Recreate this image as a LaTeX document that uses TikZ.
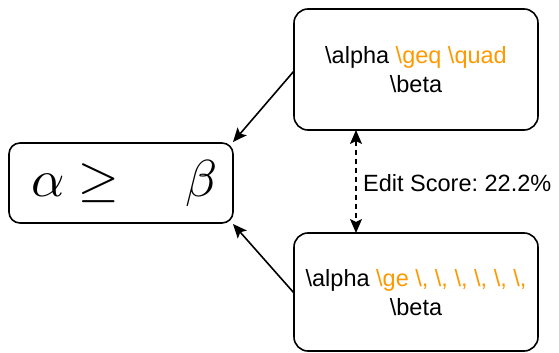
\documentclass[tikz,border=0pt]{standalone}
\usepackage{fontspec}
\setmainfont{Liberation Sans}
\usepackage{unicode-math}
\setmathfont{Latin Modern Math}
\usetikzlibrary{arrows.meta}
\definecolor{hl}{RGB}{255,153,0}
\frenchspacing
\tikzset{
  card/.style={draw, line width=1.6pt, rounded corners=14pt},
  tip/.style={Stealth[length=14pt,width=12pt,inset=3pt]},
  link/.style={line width=1.6pt, -{Stealth[length=14pt,width=12pt,inset=3pt]}},
  txt/.style={font=\fontsize{23.5}{29}\selectfont, align=center, inner sep=0pt},
}
\begin{document}
\begin{tikzpicture}[x=1pt,y=-1pt]
  \useasboundingbox (0,0) rectangle (559,353);
  % boxes
  \draw[card] (294,9) rectangle (538,130);
  \draw[card] (294,233) rectangle (538,351);
  \draw[card, rounded corners=11pt] (9,143) rectangle (233,223);
  \coordinate (top) at (416,70);
  \coordinate (bot) at (416,293);
  \coordinate (res) at (124,183);
  \coordinate (topW) at (294,71);
  \coordinate (botW) at (294,293);
  \coordinate (resNE) at (233,142);
  \coordinate (resSE) at (233,224);
  \coordinate (topS) at (356,130);
  \coordinate (botN) at (356,233);
  % labels
  \node[txt] (tl) at (top) {\textbackslash alpha \textcolor{hl}{\textbackslash geq \textbackslash quad}\\\textbackslash beta};
  \node[txt] (bl) at (bot) {\textbackslash alpha \textcolor{hl}{\textbackslash ge \textbackslash, \textbackslash, \textbackslash, \textbackslash, \textbackslash, \textbackslash,}\\\textbackslash beta};
  \node[inner sep=0pt, font=\fontsize{52}{58}\selectfont] (rl) at (res) {$\alpha \geq \quad \beta$};
  % connectors
  \draw[link] (topW) -- (resNE);
  \draw[link] (botW) -- (resSE);
  \draw[link, dash pattern=on 5pt off 4pt, {Stealth[length=14pt,width=12pt,inset=3pt]}-{Stealth[length=14pt,width=12pt,inset=3pt]}] (topS) -- (botN);
  \node[txt, anchor=west] (score) at (363,183) {Edit Score: 22.2\%};
\end{tikzpicture}
\end{document}
